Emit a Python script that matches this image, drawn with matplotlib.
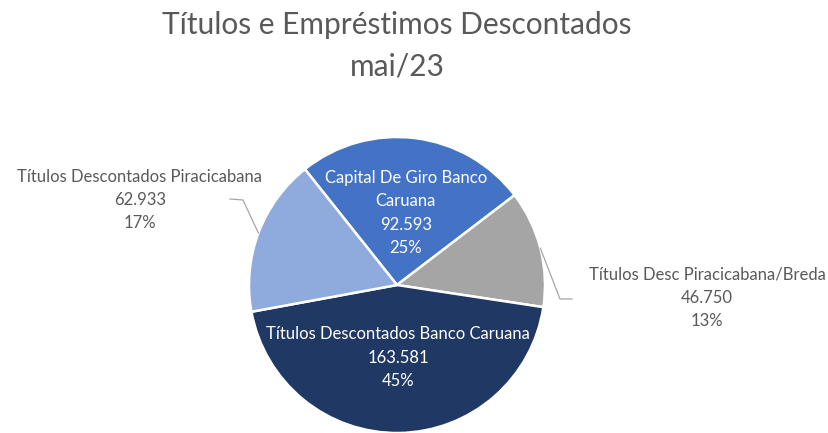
import numpy as np
import matplotlib.pyplot as plt

plt.rcParams['font.family'] = ['Lato', 'DejaVu Sans']

# dados (mai/23), em ordem horária a partir do topo-esquerdo
nomes = ['Capital De Giro Banco\nCaruana', 'Títulos Desc Piracicabana/Breda',
         'Títulos Descontados Banco Caruana', 'Títulos Descontados Piracicabana']
valores = [92.593, 46.750, 163.581, 62.933]
rotulos_valor = ['92.593', '46.750', '163.581', '62.933']
cores = ['#4472C4', '#A5A5A5', '#203864', '#8FAADC']

fig = plt.figure(figsize=(8.29, 4.33), dpi=100)
ax = fig.add_axes([0, 0, 1, 1])

centro = (397, 148)
raio = 148
inicio = 128.5

wedges, _ = ax.pie(valores, colors=cores, startangle=inicio, counterclock=False,
                   center=centro, radius=raio, frame=True,
                   wedgeprops=dict(edgecolor='white', linewidth=1.8))
ax.set_xlim(0, 829)
ax.set_ylim(0, 433)
ax.set_aspect('equal')
ax.axis('off')

total = sum(valores)
pct = [v / total * 100 for v in valores]

def ponto(w, frac):
    ang = np.deg2rad((w.theta1 + w.theta2) / 2)
    return centro[0] + frac * raio * np.cos(ang), centro[1] + frac * raio * np.sin(ang)

# rotulos internos
for i in [0, 2]:
    x, y = ponto(wedges[i], 0.49)
    ax.text(x, y, '%s\n%s\n%.0f%%' % (nomes[i], rotulos_valor[i], pct[i]),
            ha='center', va='center', color='white', fontsize=12, linespacing=1.55)

# rotulos externos com linhas guia
cinza = '#595959'
linha = '#A6A6A6'

ax.text(140, 233, '%s\n%s\n%.0f%%' % (nomes[3], rotulos_valor[3], pct[3]),
        ha='center', va='center', color=cinza, fontsize=12, linespacing=1.55)
x0, y0 = ponto(wedges[3], 1.0)
ax.plot([230, 243, x0], [234, 233, y0], color=linha, lw=0.9)

ax.text(707, 135, '%s\n%s\n%.0f%%' % (nomes[1], rotulos_valor[1], pct[1]),
        ha='center', va='center', color=cinza, fontsize=12, linespacing=1.55)
x1, y1 = ponto(wedges[1], 1.0)
ax.plot([x1, 560, 572], [y1, 134, 134], color=linha, lw=0.9)

fig.text(0.479, 0.942, 'Títulos e Empréstimos Descontados', ha='center', va='center',
         fontsize=21.5, color=cinza)
fig.text(0.479, 0.847, 'mai/23', ha='center', va='center', fontsize=21.5, color=cinza)

fig.savefig('out.png', dpi=100, facecolor='white')
